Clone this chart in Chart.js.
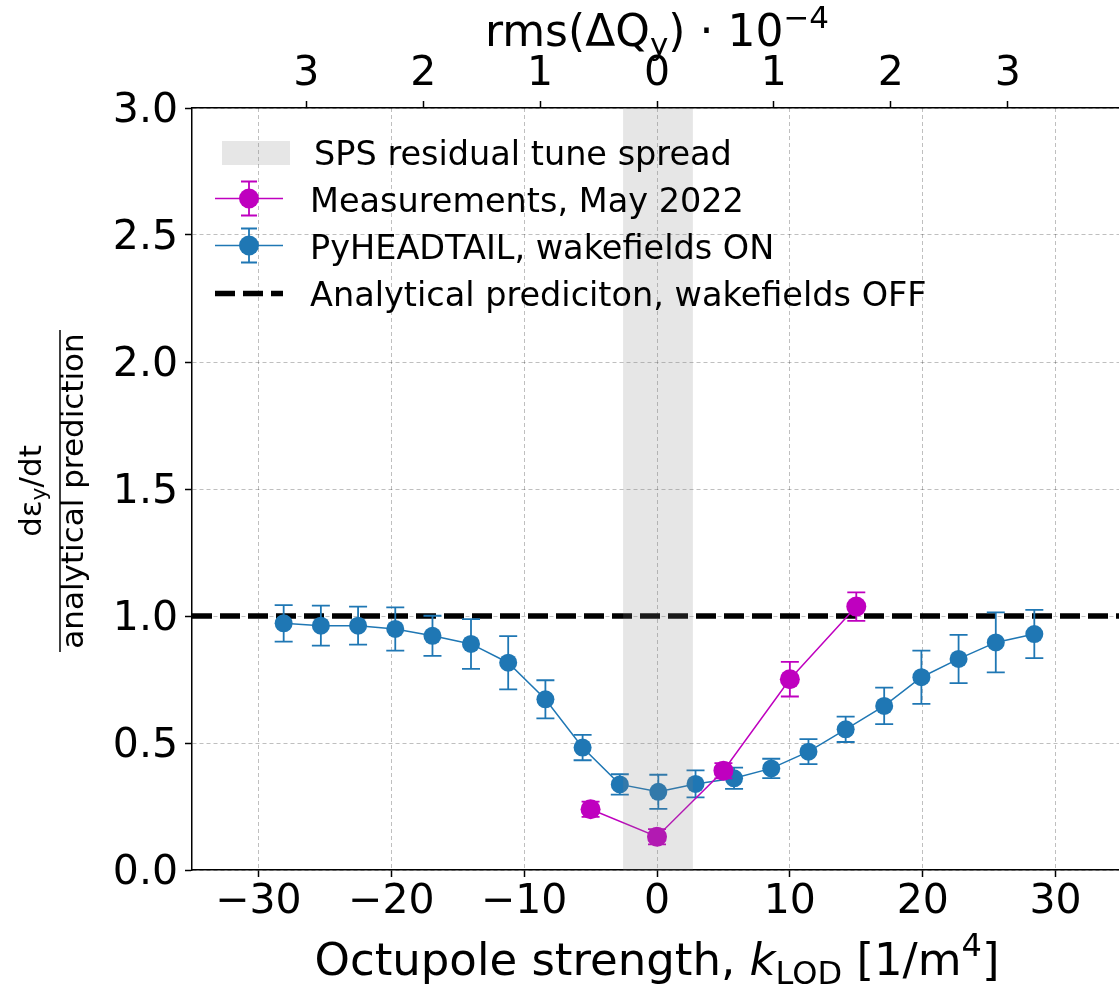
<!DOCTYPE html>
<html>
<head>
<meta charset="utf-8">
<script src="https://cdn.jsdelivr.net/npm/chart.js@4.4.0/dist/chart.umd.min.js"></script>
<style>
  html, body { margin: 0; padding: 0; background: #fff; overflow: hidden; }
  canvas { display: block; }
</style>
</head>
<body>
<canvas id="chart" width="1132" height="985"></canvas>
<script>
// --- dati ---
const kSim = [-28.1, -25.3, -22.5, -19.7, -16.9, -14.0, -11.2, -8.4, -5.6, -2.8, 0.1,
              2.9, 5.8, 8.6, 11.4, 14.2, 17.1, 19.9, 22.7, 25.5, 28.4];
const simRatio = [0.971, 0.962, 0.962, 0.949, 0.922, 0.890, 0.816, 0.672, 0.482, 0.337, 0.308,
                  0.339, 0.361, 0.400, 0.466, 0.554, 0.646, 0.759, 0.831, 0.896, 0.929];
const simErr = [0.072, 0.079, 0.075, 0.085, 0.079, 0.098, 0.105, 0.075, 0.050, 0.040, 0.067,
                0.053, 0.042, 0.038, 0.049, 0.050, 0.072, 0.105, 0.095, 0.118, 0.095];

const kMeas = [-5, 0, 5, 10, 15];
const measRatio = [0.239, 0.131, 0.391, 0.751, 1.037];
const measErr = [0.03, 0.03, 0.03, 0.068, 0.056];

const xTicks = [-30, -20, -10, 0, 10, 20, 30];
const yTicks = [0, 0.5, 1.0, 1.5, 2.0, 2.5, 3.0];
const rmsTicks = [-3, -2, -1, 0, 1, 2, 3];
const kPerRms = 8.8;            // 1e-4 di rms(dQy) corrisponde a ~8.8 1/m^4
const spreadBand = [-2.55, 2.7];
const analyticalLevel = 1.0;
const xRange = [-35, 35];
const yRange = [0, 3];

const FONT = 'DejaVu Sans';
const BLUE = '#1f77b4';
const MAGENTA = '#bf00bf';
const BAND = 'rgba(128,128,128,0.2)';
const DASH = [20, 8];

// testo con pedici / apici
function drawRich(ctx, parts, x, y, align) {
  let total = 0;
  parts.forEach(p => {
    ctx.font = (p.it ? 'italic ' : '') + p.s + 'px "' + FONT + '"';
    p.w = ctx.measureText(p.t).width;
    total += p.w;
  });
  let cx = align === 'center' ? x - total / 2 : x;
  ctx.textAlign = 'left';
  ctx.textBaseline = 'alphabetic';
  parts.forEach(p => {
    ctx.font = (p.it ? 'italic ' : '') + p.s + 'px "' + FONT + '"';
    ctx.fillText(p.t, cx, y + (p.dy || 0));
    cx += p.w;
  });
}

function drawErrMarker(ctx, x, y, halfLen, cap, color, r) {
  ctx.strokeStyle = color;
  ctx.lineWidth = 1.8;
  ctx.beginPath();
  ctx.moveTo(x, y - halfLen); ctx.lineTo(x, y + halfLen);
  ctx.moveTo(x - cap, y - halfLen); ctx.lineTo(x + cap, y - halfLen);
  ctx.moveTo(x - cap, y + halfLen); ctx.lineTo(x + cap, y + halfLen);
  ctx.stroke();
  ctx.fillStyle = color;
  ctx.beginPath();
  ctx.arc(x, y, r, 0, Math.PI * 2);
  ctx.fill();
}

// barre d'errore sotto i marker
const errorBars = {
  id: 'errorBars',
  beforeDatasetDraw(chart, args) {
    const ds = chart.data.datasets[args.index];
    if (!ds.errors) return;
    const { ctx, scales: { x, y } } = chart;
    ctx.save();
    ctx.strokeStyle = ds.borderColor;
    ctx.lineWidth = 1.8;
    ds.data.forEach((p, i) => {
      const px = x.getPixelForValue(p.x);
      const y1 = y.getPixelForValue(p.y + ds.errors[i]);
      const y2 = y.getPixelForValue(p.y - ds.errors[i]);
      ctx.beginPath();
      ctx.moveTo(px, y1); ctx.lineTo(px, y2);
      ctx.moveTo(px - 9, y1); ctx.lineTo(px + 9, y1);
      ctx.moveTo(px - 9, y2); ctx.lineTo(px + 9, y2);
      ctx.stroke();
    });
    ctx.restore();
  }
};

// banda grigia sopra i dati (come axvspan)
const spreadPlugin = {
  id: 'spread',
  afterDatasetsDraw(chart) {
    const { ctx, chartArea, scales: { x } } = chart;
    const x1 = x.getPixelForValue(spreadBand[0]);
    const x2 = x.getPixelForValue(spreadBand[1]);
    ctx.save();
    ctx.fillStyle = BAND;
    ctx.fillRect(x1, chartArea.top, x2 - x1, chartArea.bottom - chartArea.top);
    ctx.restore();
  }
};

// titoli degli assi e legenda
const decorations = {
  id: 'decorations',
  afterDraw(chart) {
    const { ctx, chartArea } = chart;
    const cx = (chartArea.left + chartArea.right) / 2;
    ctx.save();
    ctx.fillStyle = '#000';

    // titolo asse basso
    drawRich(ctx, [
      { t: 'Octupole strength, ', s: 45 },
      { t: 'k', s: 45, it: true },
      { t: 'LOD', s: 32, dy: 9 },
      { t: ' [1/m', s: 45 },
      { t: '4', s: 32, dy: -19 },
      { t: ']', s: 45 }
    ], cx, 975, 'center');

    // titolo asse alto
    drawRich(ctx, [
      { t: 'rms(\u0394Q', s: 44 },
      { t: 'y', s: 31, dy: 9 },
      { t: ') \u00b7 10', s: 44 },
      { t: '\u22124', s: 31, dy: -18 }
    ], cx, 46, 'center');

    // titolo asse y: frazione ruotata
    ctx.save();
    ctx.translate(60, 491);
    ctx.rotate(-Math.PI / 2);
    drawRich(ctx, [
      { t: 'd\u03b5', s: 31 },
      { t: 'y', s: 22, dy: 5 },
      { t: '/dt', s: 31 }
    ], 0, -19, 'center');
    drawRich(ctx, [{ t: 'analytical prediction', s: 31 }], 0, 23, 'center');
    ctx.strokeStyle = '#000';
    ctx.lineWidth = 1.5;
    ctx.beginPath();
    ctx.moveTo(-161, 0); ctx.lineTo(161, 0);
    ctx.stroke();
    ctx.restore();

    // legenda (senza cornice)
    const hx0 = 215, hx1 = 283, hmid = 249, tx = 310;
    const rows = [164.5, 211.5, 258.5, 305.5];
    ctx.fillStyle = BAND;
    ctx.fillRect(222, rows[0] - 23.5, 68, 24);

    [[MAGENTA, rows[1] - 13], [BLUE, rows[2] - 13]].forEach(([col, yy]) => {
      ctx.strokeStyle = col;
      ctx.lineWidth = 1.5;
      ctx.beginPath();
      ctx.moveTo(hx0, yy); ctx.lineTo(hx1, yy);
      ctx.stroke();
      drawErrMarker(ctx, hmid, yy, 17, 8, col, 10);
    });

    ctx.strokeStyle = '#000';
    ctx.lineWidth = 5.5;
    ctx.setLineDash(DASH);
    ctx.beginPath();
    ctx.moveTo(hx0, rows[3] - 12); ctx.lineTo(hx1, rows[3] - 12);
    ctx.stroke();
    ctx.setLineDash([]);

    ctx.fillStyle = '#000';
    const labels = chart.data.datasets.map(d => d.label);
    drawRich(ctx, [{ t: 'SPS residual tune spread', s: 33.5 }], tx + 4, rows[0], 'left');
    drawRich(ctx, [{ t: labels[0], s: 33.5 }], tx, rows[1], 'left');
    drawRich(ctx, [{ t: labels[1], s: 33.5 }], tx, rows[2], 'left');
    drawRich(ctx, [{ t: labels[2], s: 33.5 }], tx, rows[3], 'left');
    ctx.restore();
  }
};

const gridStyle = {
  color: 'rgba(0,0,0,0.25)',
  lineWidth: 1,
  tickLength: 7,
  tickColor: '#000',
  tickWidth: 1.5,
  tickBorderDash: []
};
const borderStyle = { color: '#000', width: 1.5, dash: [4, 3] };
const tickFont = { family: FONT, size: 41 };

new Chart(document.getElementById('chart'), {
  type: 'scatter',
  data: {
    datasets: [
      {
        label: 'Measurements, May 2022',
        data: kMeas.map((k, i) => ({ x: k, y: measRatio[i] })),
        errors: measErr,
        showLine: true,
        borderColor: MAGENTA,
        backgroundColor: MAGENTA,
        borderWidth: 1.5,
        pointRadius: 10,
        pointBorderWidth: 0,
        order: 0
      },
      {
        label: 'PyHEADTAIL, wakefields ON',
        data: kSim.map((k, i) => ({ x: k, y: simRatio[i] })),
        errors: simErr,
        showLine: true,
        borderColor: BLUE,
        backgroundColor: BLUE,
        borderWidth: 1.5,
        pointRadius: 9,
        pointBorderWidth: 0,
        order: 1
      },
      {
        label: 'Analytical prediciton, wakefields OFF',
        data: xRange.map(k => ({ x: k, y: analyticalLevel })),
        showLine: true,
        borderColor: '#000',
        borderWidth: 5.5,
        borderDash: DASH,
        pointRadius: 0,
        order: 2
      }
    ]
  },
  options: {
    responsive: false,
    animation: false,
    devicePixelRatio: 1,
    layout: { padding: 0 },
    plugins: { legend: { display: false }, tooltip: { enabled: false } },
    scales: {
      x: {
        type: 'linear', position: 'bottom',
        min: xRange[0], max: xRange[1],
        afterBuildTicks: s => { s.ticks = xTicks.map(v => ({ value: v })); },
        afterFit: s => { s.height = 115; },
        ticks: {
          callback: v => (v < 0 ? '\u2212' + Math.abs(v) : String(v)),
          font: tickFont, color: '#000', padding: 1, maxRotation: 0
        },
        grid: gridStyle,
        border: borderStyle
      },
      x2: {
        type: 'linear', axis: 'x', position: 'top',
        min: xRange[0], max: xRange[1],
        afterBuildTicks: s => { s.ticks = rmsTicks.map(n => ({ value: n * kPerRms })); },
        afterFit: s => { s.height = 108; },
        ticks: {
          callback: v => String(Math.round(Math.abs(v) / kPerRms)),
          font: tickFont, color: '#000', padding: 2, maxRotation: 0
        },
        grid: Object.assign({}, gridStyle, { drawOnChartArea: false }),
        border: borderStyle
      },
      y: {
        type: 'linear', position: 'left',
        min: yRange[0], max: yRange[1],
        afterBuildTicks: s => { s.ticks = yTicks.map(v => ({ value: v })); },
        afterFit: s => { s.width = 192; },
        ticks: {
          callback: v => v.toFixed(1),
          font: tickFont, color: '#000', padding: 7, labelOffset: 3
        },
        grid: gridStyle,
        border: borderStyle
      }
    }
  },
  plugins: [errorBars, spreadPlugin, decorations]
});
</script>
</body>
</html>
